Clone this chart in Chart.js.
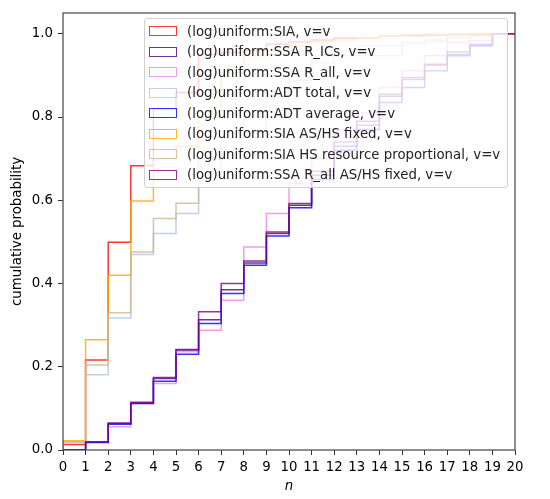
<!DOCTYPE html>
<html>
<head>
<meta charset="utf-8">
<script src="https://cdn.jsdelivr.net/npm/chart.js@4"></script>
<style>
    body { margin: 0; background: #fff; }
    #wrap { position: relative; width: 550px; height: 499px; }
    #legend {
        position: absolute; left: 144px; top: 18px; width: 362px; height: 166px;
        border: 1px solid #d0d0d0; border-radius: 3px;
        background: rgba(255, 255, 255, 0.8);
        font-family: "DejaVu Sans", sans-serif; font-size: 13.3px; color: #222;
        padding-top: 2px; box-sizing: content-box;
    }
    .row { display: flex; align-items: center; height: 20.47px; white-space: nowrap; }
    .patch { box-sizing: border-box; width: 28px; height: 10px; margin: 0 10px 0 4px; border: 1.5px solid; }
</style>
</head>
<body>
<div id="wrap">
    <canvas id="chart"></canvas>
    <div id="legend"></div>
</div>
<script>
// Bin edges along n and tick labels
const xTicks = [0, 1, 2, 3, 4, 5, 6, 7, 8, 9, 10, 11, 12, 13, 14, 15, 16, 17, 18, 19, 20];
const yTicks = [0, 0.2, 0.4, 0.6, 0.8, 1.0];

// Cumulative probability per bin [n, n+1)
const sia          = [0.013, 0.216, 0.499, 0.683, 0.82, 0.859, 0.95, 0.955, 0.96, 0.975, 0.98, 0.985, 0.99, 0.99, 0.995, 0.995, 0.997, 0.998, 0.999, 1.0];
const ssaRICs      = [0, 0.02, 0.064, 0.113, 0.172, 0.24, 0.313, 0.385, 0.449, 0.52, 0.588, 0.66, 0.73, 0.78, 0.85, 0.89, 0.925, 0.95, 0.972, 1.0];
const ssaRAll      = [0, 0.02, 0.056, 0.112, 0.16, 0.236, 0.288, 0.36, 0.488, 0.568, 0.64, 0.70, 0.77, 0.81, 0.871, 0.911, 0.947, 0.979, 0.983, 1.0];
const adtTotal     = [0.018, 0.181, 0.317, 0.47, 0.52, 0.568, 0.66, 0.70, 0.727, 0.815, 0.887, 0.93, 0.96, 0.97, 0.97, 0.975, 0.98, 0.995, 0.995, 1.0];
const adtAverage   = [0, 0.018, 0.062, 0.112, 0.165, 0.23, 0.304, 0.376, 0.444, 0.514, 0.582, 0.65, 0.72, 0.77, 0.835, 0.871, 0.911, 0.947, 0.971, 1.0];
const siaFixed     = [0.022, 0.265, 0.42, 0.598, 0.70, 0.73, 0.80, 0.907, 0.947, 0.96, 0.97, 0.98, 0.985, 0.99, 0.995, 0.998, 0.999, 0.999, 1.0, 1.0];
const siaHSProp    = [0.02, 0.204, 0.33, 0.476, 0.556, 0.593, 0.70, 0.75, 0.80, 0.86, 0.91, 0.947, 0.947, 0.947, 0.947, 0.98, 0.985, 0.99, 0.995, 1.0];
const ssaRAllFixed = [0, 0.02, 0.064, 0.115, 0.174, 0.2415, 0.332, 0.40, 0.454, 0.524, 0.592, 0.67, 0.74, 0.79, 0.855, 0.895, 0.927, 0.956, 0.975, 1.0];

const seriesLabels = [
    '(log)uniform:SIA, v=v',
    '(log)uniform:SSA R_ICs, v=v',
    '(log)uniform:SSA R_all, v=v',
    '(log)uniform:ADT total, v=v',
    '(log)uniform:ADT average, v=v',
    '(log)uniform:SIA AS/HS fixed, v=v',
    '(log)uniform:SIA HS resource proportional, v=v',
    '(log)uniform:SSA R_all AS/HS fixed, v=v'
];
const seriesValues = [sia, ssaRICs, ssaRAll, adtTotal, adtAverage, siaFixed, siaHSProp, ssaRAllFixed];
const seriesColors = [
    'rgba(255,0,0,0.8)', 'rgba(75,0,130,0.8)', 'rgba(238,130,238,0.8)', 'rgba(176,196,222,0.8)',
    'rgba(0,0,255,0.8)', 'rgba(255,165,0,0.8)', 'rgba(210,180,140,0.8)', 'rgba(128,0,128,0.8)'
];

// Step outline like matplotlib histtype='step' (the drop at the right end sits under the spine)
function stepPoints(vals) {
    const pts = [{ x: xTicks[0], y: 0 }];
    vals.forEach((v, i) => pts.push({ x: xTicks[i], y: v }));
    pts.push({ x: xTicks[vals.length], y: vals[vals.length - 1] });
    return pts;
}

const datasets = seriesValues.map((vals, i) => ({
    label: seriesLabels[i],
    data: stepPoints(vals),
    borderColor: seriesColors[i],
    borderWidth: 1.5,
    fill: false,
    stepped: 'before',
    pointRadius: 0,
    order: seriesValues.length - i
}));

// Draw the axes box on top of the data
const frame = {
    id: 'frame',
    afterDatasetsDraw(chart) {
        const a = chart.chartArea;
        const ctx = chart.ctx;
        ctx.save();
        ctx.strokeStyle = '#444';
        ctx.lineWidth = 1.2;
        ctx.strokeRect(a.left, a.top, a.right - a.left, a.bottom - a.top);
        ctx.restore();
    }
};

const tickFont = { family: 'DejaVu Sans', size: 13.3 };

new Chart(document.getElementById('chart'), {
    type: 'line',
    data: { datasets: datasets },
    options: {
        responsive: true,
        maintainAspectRatio: false,
        animation: false,
        layout: { padding: { left: 0, top: 11, right: 35, bottom: 0 } },
        plugins: { legend: { display: false }, tooltip: { enabled: false } },
        scales: {
            x: {
                type: 'linear', min: 0, max: 20,
                afterBuildTicks: s => { s.ticks = xTicks.map(v => ({ value: v })); },
                afterFit: s => { s.height = 49; },
                ticks: { color: '#000', font: tickFont, padding: 5, maxRotation: 0, autoSkip: false },
                grid: { drawOnChartArea: false, drawTicks: true, tickLength: 5, color: '#333' },
                border: { display: false },
                title: { display: true, text: 'n', color: '#000', font: { family: 'DejaVu Sans', size: 13.3, style: 'italic' }, padding: { top: 0, bottom: 4 } }
            },
            y: {
                type: 'linear', min: 0, max: 1.05,
                afterBuildTicks: s => { s.ticks = yTicks.map(v => ({ value: v })); },
                afterFit: s => { s.width = 63; },
                ticks: { color: '#000', font: tickFont, padding: 5, callback: v => v.toFixed(1) },
                grid: { drawOnChartArea: false, drawTicks: true, tickLength: 5, color: '#333' },
                border: { display: false },
                title: { display: true, text: 'cumulative probability', color: '#000', font: { family: 'DejaVu Sans', size: 13.3 }, padding: { top: 10, bottom: 0 } }
            }
        }
    },
    plugins: [frame]
});

// Legend drawn inside the axes, as in the reference
const legend = document.getElementById('legend');
seriesLabels.forEach((label, i) => {
    const row = document.createElement('div');
    row.className = 'row';
    const patch = document.createElement('span');
    patch.className = 'patch';
    patch.style.borderColor = seriesColors[i];
    const text = document.createElement('span');
    text.textContent = label;
    row.appendChild(patch);
    row.appendChild(text);
    legend.appendChild(row);
});
</script>
</body>
</html>
